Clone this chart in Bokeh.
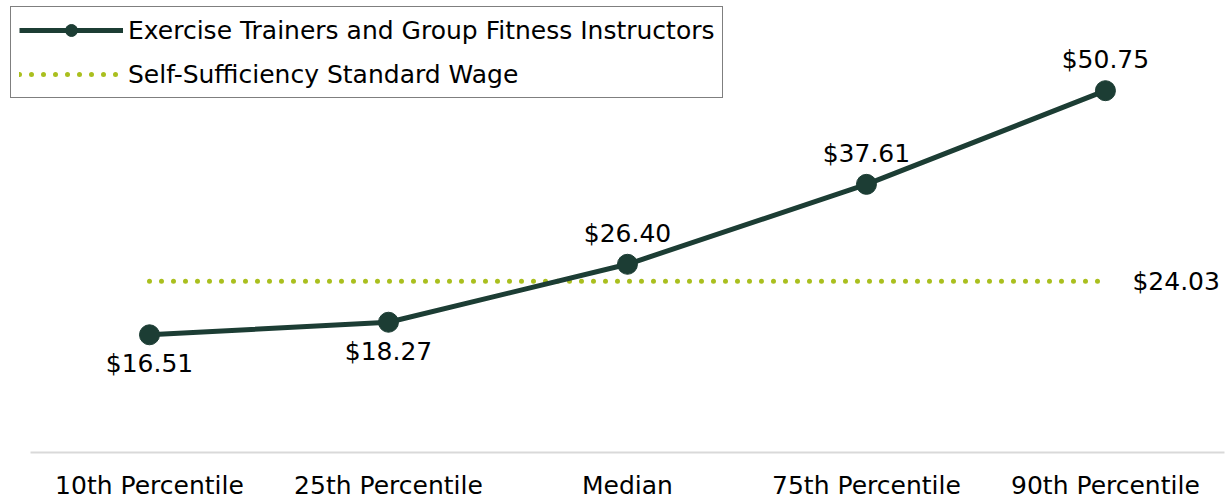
from bokeh.plotting import figure
from bokeh.models import Range1d, Legend, LegendItem, ColumnDataSource, FixedTicker
from bokeh.core.properties import value
from bokeh.embed import file_html
from bokeh.resources import INLINE

categories = ["10th Percentile", "25th Percentile", "Median", "75th Percentile", "90th Percentile"]
wages = [16.51, 18.27, 26.40, 37.61, 50.75]
self_sufficiency = 24.03
series_name = "Exercise Trainers and Group Fitness Instructors"
standard_name = "Self-Sufficiency Standard Wage"

FONT = "DejaVu Sans"
DARK = "#1c3d34"
LIME = "#aabf1e"

xs = list(range(len(categories)))

p = figure(x_range=Range1d(-0.5816, 4.515), y_range=Range1d(0, 63.4),
           width=1228, height=502, output_backend="svg", toolbar_location=None,
           min_border_left=10, min_border_right=0, min_border_top=0, min_border_bottom=0)
p.outline_line_color = None
p.xgrid.visible = False
p.ygrid.visible = False
p.yaxis.visible = False

ax = p.xaxis[0]
ax.ticker = FixedTicker(ticks=xs)
ax.major_label_overrides = {x: c for x, c in zip(xs, categories)}
ax.bounds = (xs[0] - 0.5, xs[-1] + 0.5)
ax.axis_line_color = "#d9d9d9"
ax.axis_line_width = 2
ax.major_tick_line_color = None
ax.minor_tick_line_color = None
ax.major_tick_out = 0
ax.major_tick_in = 0
ax.minor_tick_out = 0
ax.minor_tick_in = 0
ax.major_label_text_font = FONT
ax.major_label_text_font_size = "25px"
ax.major_label_text_color = "black"
ax.major_label_standoff = 18

std_src = ColumnDataSource(dict(x=xs, y=[self_sufficiency] * len(xs)))
r_std = p.line("x", "y", source=std_src, line_color=LIME, line_width=5,
               line_dash="0 12", line_cap="round")

src = ColumnDataSource(dict(x=xs, y=wages, lab=["$%.2f" % v for v in wages]))
r_line = p.line("x", "y", source=src, line_color=DARK, line_width=5)
r_pts = p.scatter("x", "y", source=src, size=20, fill_color=DARK, line_color=DARK)

below_src = ColumnDataSource(dict(x=xs[:2], y=wages[:2],
                                  lab=["$%.2f" % v for v in wages[:2]]))
above_src = ColumnDataSource(dict(x=xs[2:], y=wages[2:],
                                  lab=["$%.2f" % v for v in wages[2:]]))
p.text("x", "y", text="lab", source=below_src, text_align="center", text_baseline="middle",
       y_offset=29, text_font=value(FONT), text_font_size="25px", text_color="black")
p.text("x", "y", text="lab", source=above_src, text_align="center", text_baseline="middle",
       y_offset=-31, text_font=value(FONT), text_font_size="25px", text_color="black")

std_lab = ColumnDataSource(dict(x=[xs[-1]], y=[self_sufficiency],
                                lab=["$%.2f" % self_sufficiency]))
p.text("x", "y", text="lab", source=std_lab, text_align="left", text_baseline="middle",
       x_offset=27, text_font=value(FONT), text_font_size="25px", text_color="black")

legend = Legend(items=[LegendItem(label=series_name, renderers=[r_line, r_pts]),
                       LegendItem(label=standard_name, renderers=[r_std])],
                location=(0, 354), orientation="vertical",
                border_line_color="black", border_line_width=1,
                background_fill_color="white", background_fill_alpha=1,
                label_text_font=FONT, label_text_font_size="25px", label_text_color="black",
                glyph_width=104, glyph_height=30, label_height=30, label_standoff=5,
                spacing=14, padding=8, margin=0)
p.add_layout(legend, "center")

open("out.html", "w").write(file_html(p, INLINE))
